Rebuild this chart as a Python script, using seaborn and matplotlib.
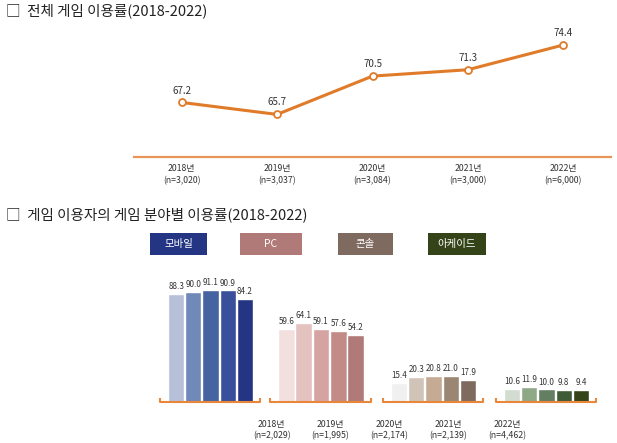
import pandas as pd
import seaborn as sns
import matplotlib.pyplot as plt
from matplotlib.patches import Rectangle

# Overall game usage rate
years = ['2018년', '2019년', '2020년', '2021년', '2022년']
n_total = ['(n=3,020)', '(n=3,037)', '(n=3,084)', '(n=3,000)', '(n=6,000)']
rate_total = [67.2, 65.7, 70.5, 71.3, 74.4]

# Usage rate by game platform (game users)
categories = ['모바일', 'PC', '콘솔', '아케이드']
mobile = [88.3, 90.0, 91.1, 90.9, 84.2]
pc = [59.6, 64.1, 59.1, 57.6, 54.2]
console = [15.4, 20.3, 20.8, 21.0, 17.9]
arcade = [10.6, 11.9, 10.0, 9.8, 9.4]
n_users = ['(n=2,029)', '(n=1,995)', '(n=2,174)', '(n=2,139)', '(n=4,462)']

palettes = [
    ['#b6c1d9', '#7189b8', '#4663a1', '#3a4f9c', '#243584'],
    ['#f2e0df', '#e4c2c0', '#d5a4a2', '#c38b88', '#b07a78'],
    ['#f0f0f0', '#d0c4b8', '#c6ab94', '#9a8672', '#7f6a60'],
    ['#d3dcd0', '#8fa886', '#647e62', '#3e5a36', '#354418'],
]
legend_colors = ['#243584', '#b07a78', '#7f6a60', '#354418']

sns.set_style('white')
plt.rcParams['font.family'] = ['Noto Sans CJK KR', 'DejaVu Sans']

W, H = 617, 443
fig = plt.figure(figsize=(W / 100, H / 100), dpi=100)
orange = '#e07b2a'
txt = '#333333'


def fbox(x0, y0, x1, y1):
    # pixel box (top-left origin) -> figure fraction [l, b, w, h]
    return [x0 / W, 1 - y1 / H, (x1 - x0) / W, (y1 - y0) / H]


# Titles
fig.text(6 / W, 1 - 11 / H, '□  전체 게임 이용률(2018-2022)', fontsize=10.5,
         color='#222222', va='center', ha='left')
fig.text(6 / W, 1 - 215 / H, '□  게임 이용자의 게임 분야별 이용률(2018-2022)', fontsize=10.5,
         color='#222222', va='center', ha='left')

# ---- line chart ----
ax = fig.add_axes(fbox(134, 30, 611, 156.7))
df = pd.DataFrame({'x': range(5), 'rate': rate_total})
sns.lineplot(data=df, x='x', y='rate', ax=ax, color=orange, linewidth=2.2,
             marker='o', markersize=5, markerfacecolor='white',
             markeredgecolor=orange, markeredgewidth=1.3)
ax.set_xlim(-0.5, 4.5)
ax.set_ylim(60.4, 76.28)
for s in ['top', 'right', 'left']:
    ax.spines[s].set_visible(False)
ax.spines['bottom'].set_color('#e8955a')
ax.spines['bottom'].set_linewidth(1.6)
ax.set_yticks([])
ax.set_xticks([-0.5, 0.5, 1.5, 2.5, 3.5])
ax.tick_params(axis='x', length=2, width=1, color='#e8955a', direction='in', labelbottom=False)
ax.set_xlabel('')
ax.set_ylabel('')
for i, v in enumerate(rate_total):
    ax.annotate(f'{v:.1f}', (i, v), xytext=(0, 5), textcoords='offset points',
                ha='center', va='bottom', fontsize=7, color=txt)
    ax.text(i, -0.06, years[i] + '\n' + n_total[i], transform=ax.get_xaxis_transform(),
            ha='center', va='top', fontsize=6.3, color=txt, linespacing=1.45)

# ---- legend boxes ----
boxes = [(150, 207), (240, 302), (338, 393), (428, 486)]
for (x0, x1), name, c in zip(boxes, categories, legend_colors):
    fig.add_artist(Rectangle((x0 / W, 1 - 255 / H), (x1 - x0) / W, 22 / H,
                             transform=fig.transFigure, facecolor=c, edgecolor='none'))
    fig.text((x0 + x1) / 2 / W, 1 - 244 / H, name, ha='center', va='center',
             fontsize=7.5, color='white')

# ---- grouped bar charts ----
brackets = [(160, 260), (270, 371), (383, 483), (496, 596)]
series = [mobile, pc, console, arcade]
for (x0, x1), vals, pal in zip(brackets, series, palettes):
    bx = fig.add_axes(fbox(x0, 270, x1, 401.5))
    d = pd.DataFrame({'year': years, 'value': vals})
    sns.barplot(data=d, x='year', y='value', hue='year', palette=pal, legend=False,
                width=0.95, ax=bx, saturation=1)
    bx.set_xlim(-0.94, 4.88)
    bx.set_ylim(0, 107.6)
    bx.axis('off')
    for cont in bx.containers:
        bx.bar_label(cont, fmt='%.1f', padding=2, fontsize=5.8, color=txt)
    bx.plot([0, 0, 1, 1], [0.025, 0, 0, 0.025], transform=bx.transAxes,
            color='#e8873a', linewidth=1.5, clip_on=False, solid_capstyle='butt')

# year labels below bars
label_x = [271.7, 330, 389, 448, 507]
for x, yr, n in zip(label_x, years, n_users):
    fig.text(x / W, 1 - 420 / H, yr + '\n' + n, ha='center', va='top',
             fontsize=6.3, color=txt, linespacing=1.35)

fig.savefig('out.png', dpi=100)
